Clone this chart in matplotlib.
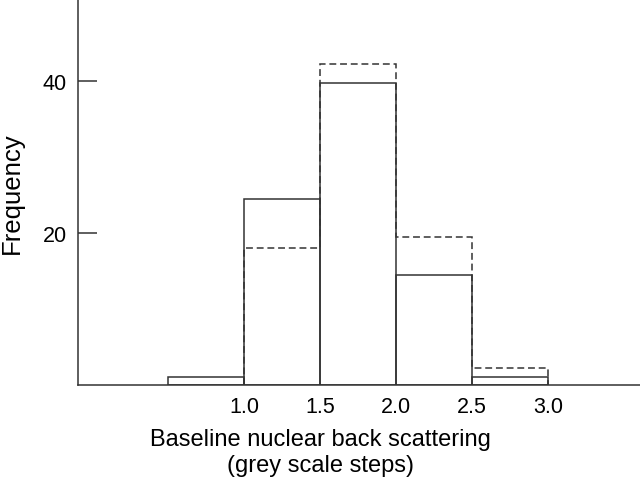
import matplotlib
matplotlib.use('Agg')
import matplotlib.pyplot as plt
import numpy as np

# histogram bins (grey scale steps)
edges_solid = [0.5, 1.0, 1.5, 2.0, 2.5, 3.0]
freq_solid = [1, 24.5, 39.7, 14.5, 1]

edges_dash = [1.0, 1.5, 2.0, 2.5, 3.0]
freq_dash = [18, 42.2, 19.5, 2.2]

xticks = [1.0, 1.5, 2.0, 2.5, 3.0]
xtick_labels = ['1.0', '1.5', '2.0', '2.5', '3.0']
yticks = [20, 40]

plt.rcParams['font.family'] = ['Liberation Sans', 'DejaVu Sans']
col = '#333333'

fig = plt.figure(figsize=(6.4, 4.89), dpi=100)
ax = fig.add_axes([0.1214, 0.2106, 0.8786, 0.7894])

ax.bar(edges_solid[:-1], freq_solid, width=np.diff(edges_solid), align='edge',
       fill=False, edgecolor=col, linewidth=1.1)
ax.stairs(freq_dash, edges_dash, baseline=0, color=col, linewidth=1.1,
          linestyle=(0, (4.5, 2.5)))

ax.set_xlim(-0.094, 3.605)
ax.set_ylim(0, 50.8)

ax.set_xticks(xticks)
ax.set_xticklabels(xtick_labels)
ax.set_yticks(yticks)
ax.tick_params(axis='y', direction='in', length=13.5, width=1.1, color=col,
               labelsize=15.5, pad=8)
ax.tick_params(axis='x', length=0, labelsize=15.5, pad=8)

for s in ['top', 'right']:
    ax.spines[s].set_visible(False)
for s in ['left', 'bottom']:
    ax.spines[s].set_color(col)
    ax.spines[s].set_linewidth(1.1)

ax.set_xlabel('Baseline nuclear back scattering\n(grey scale steps)', fontsize=17,
              linespacing=1.2)
ax.xaxis.set_label_coords(0.431, -0.112)
ax.set_ylabel('Frequency', fontsize=18.5)
ax.yaxis.set_label_coords(-0.096, 0.5)

plt.savefig('out.png', dpi=100)
